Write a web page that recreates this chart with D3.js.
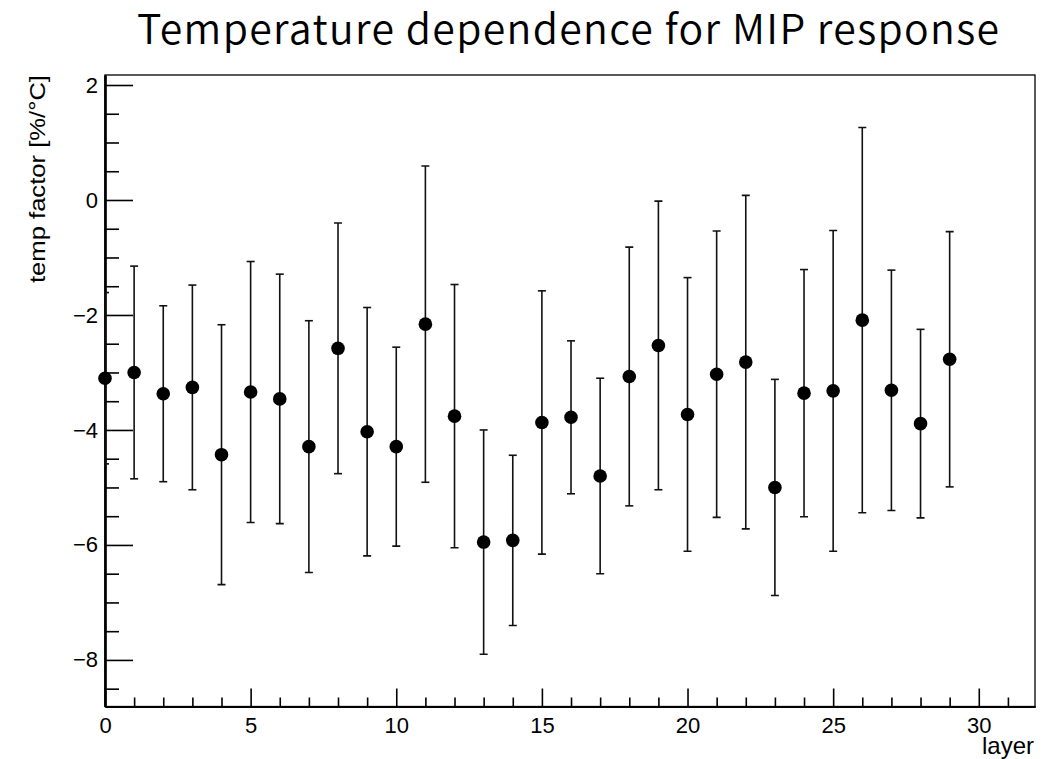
<!DOCTYPE html>
<html>
<head>
<meta charset="utf-8">
<script src="https://cdn.jsdelivr.net/npm/d3@7"></script>
<style>
  html, body { margin: 0; padding: 0; background: #fff; }
  svg { display: block; }
</style>
</head>
<body>
<svg id="chart" width="1050" height="759"></svg>
<script>
// Layer index and fitted temperature factor with its uncertainty
const layers = d3.range(0, 30);
const tempFactor = [
  -3.10, -3.00, -3.37, -3.26, -4.43, -3.34, -3.46, -4.29, -2.58, -4.03,
  -4.29, -2.16, -3.76, -5.95, -5.92, -3.87, -3.78, -4.80, -3.07, -2.53,
  -3.73, -3.03, -2.82, -5.00, -3.36, -3.32, -2.09, -3.31, -3.89, -2.77
];
const tempError = [
  1.49, 1.85, 1.53, 1.78, 2.26, 2.27, 2.17, 2.19, 2.18, 2.16,
  1.73, 2.75, 2.29, 1.95, 1.48, 2.29, 1.33, 1.70, 2.25, 2.51,
  2.38, 2.49, 2.90, 1.88, 2.15, 2.79, 3.35, 2.09, 1.64, 2.22
];
const xMajorTicks = [0, 5, 10, 15, 20, 25, 30];
const yMajorTicks = [-8, -6, -4, -2, 0, 2];

const titleText = "Temperature dependence for MIP response";
const xTitle = "layer";
const yTitle = "temp factor [%/\u00B0C]";

const frame = { left: 105, right: 1035, top: 75, bottom: 706.5 };
const svg = d3.select("#chart");

const x = d3.scaleLinear().domain([0, 31.93]).range([frame.left, frame.right]);
const y = d3.scaleLinear().domain([-8.81, 2.174]).range([frame.bottom, frame.top]);

const labelFont = "'Liberation Sans', Arial, Helvetica, sans-serif";

// Frame (top and right edges)
svg.append("rect")
  .attr("x", frame.left).attr("y", frame.top)
  .attr("width", frame.right - frame.left).attr("height", frame.bottom - frame.top)
  .attr("fill", "none").attr("stroke", "#000").attr("stroke-width", 1.3);

// Clip region for error bars
svg.append("clipPath").attr("id", "frameClip")
  .append("rect")
  .attr("x", frame.left).attr("y", frame.top)
  .attr("width", frame.right - frame.left).attr("height", frame.bottom - frame.top);

// X axis: major ticks every 5, minor every 1, drawn upward into the frame
const xMinor = d3.range(0, 32).filter(v => !xMajorTicks.includes(v));
const xAxisMinor = d3.axisBottom(x).tickValues(xMinor).tickSizeInner(-9).tickSizeOuter(0).tickFormat("");
const xAxisMajor = d3.axisBottom(x).tickValues(xMajorTicks).tickSizeInner(-18).tickSizeOuter(0)
  .tickPadding(11).tickFormat(d3.format("d"));

const gxMinor = svg.append("g").attr("transform", `translate(0,${frame.bottom})`).call(xAxisMinor);
const gx = svg.append("g").attr("transform", `translate(0,${frame.bottom})`).call(xAxisMajor);
[gxMinor, gx].forEach(g => {
  g.select(".domain").attr("stroke", "#000").attr("stroke-width", 2.2);
  g.selectAll(".tick line").attr("stroke", "#000").attr("stroke-width", 1.6);
});
gx.selectAll(".tick text")
  .attr("font-family", labelFont).attr("font-size", 22).attr("fill", "#000");

// Y axis: major ticks every 2, minor every 0.5, drawn rightward into the frame
const yMinor = d3.range(-8.5, 2.01, 0.5).filter(v => !yMajorTicks.includes(v));
const yAxisMinor = d3.axisLeft(y).tickValues(yMinor).tickSizeInner(-14).tickSizeOuter(0).tickFormat("");
const yAxisMajor = d3.axisLeft(y).tickValues(yMajorTicks).tickSizeInner(-28).tickSizeOuter(0)
  .tickPadding(7).tickFormat(d => d < 0 ? "\u2212" + Math.abs(d) : String(d));

const gyMinor = svg.append("g").attr("transform", `translate(${frame.left},0)`).call(yAxisMinor);
const gy = svg.append("g").attr("transform", `translate(${frame.left},0)`).call(yAxisMajor);
[gyMinor, gy].forEach(g => {
  g.select(".domain").attr("stroke", "#000").attr("stroke-width", 2.2);
  g.selectAll(".tick line").attr("stroke", "#000").attr("stroke-width", 1.6);
});
gy.selectAll(".tick text")
  .attr("font-family", labelFont).attr("font-size", 22).attr("fill", "#000");

// Error bars with small end caps
const bars = svg.append("g").attr("clip-path", "url(#frameClip)")
  .selectAll("g.err").data(layers).join("g").attr("class", "err");
bars.append("line")
  .attr("x1", d => x(d)).attr("x2", d => x(d))
  .attr("y1", d => y(tempFactor[d] + tempError[d]))
  .attr("y2", d => y(tempFactor[d] - tempError[d]))
  .attr("stroke", "#111").attr("stroke-width", 1.6);
bars.selectAll("line.cap")
  .data(d => [tempFactor[d] + tempError[d], tempFactor[d] - tempError[d]].map(v => ({ i: d, v })))
  .join("line").attr("class", "cap")
  .attr("x1", c => x(c.i) - 4).attr("x2", c => x(c.i) + 4)
  .attr("y1", c => y(c.v)).attr("y2", c => y(c.v))
  .attr("stroke", "#111").attr("stroke-width", 1.6);

// Markers
svg.append("g").selectAll("circle").data(layers).join("circle")
  .attr("cx", d => x(d)).attr("cy", d => y(tempFactor[d]))
  .attr("r", 6.8).attr("fill", "#000");

// Title and axis titles
svg.append("text")
  .attr("x", 568).attr("y", 44)
  .attr("text-anchor", "middle")
  .attr("font-family", "'Noto Sans CJK JP', 'Noto Sans', sans-serif")
  .attr("font-weight", 350)
  .attr("font-size", 41).attr("fill", "#000")
  .attr("textLength", 862).attr("lengthAdjust", "spacing")
  .text(titleText);

svg.append("text")
  .attr("x", frame.right - 1).attr("y", 754)
  .attr("text-anchor", "end")
  .attr("font-family", labelFont).attr("font-size", 24).attr("fill", "#000")
  .text(xTitle);

svg.append("text")
  .attr("transform", `translate(45,${frame.top}) rotate(-90)`)
  .attr("text-anchor", "end")
  .attr("font-family", labelFont).attr("font-size", 22).attr("fill", "#000")
  .attr("textLength", 208).attr("lengthAdjust", "spacingAndGlyphs")
  .text(yTitle);
</script>
</body>
</html>
